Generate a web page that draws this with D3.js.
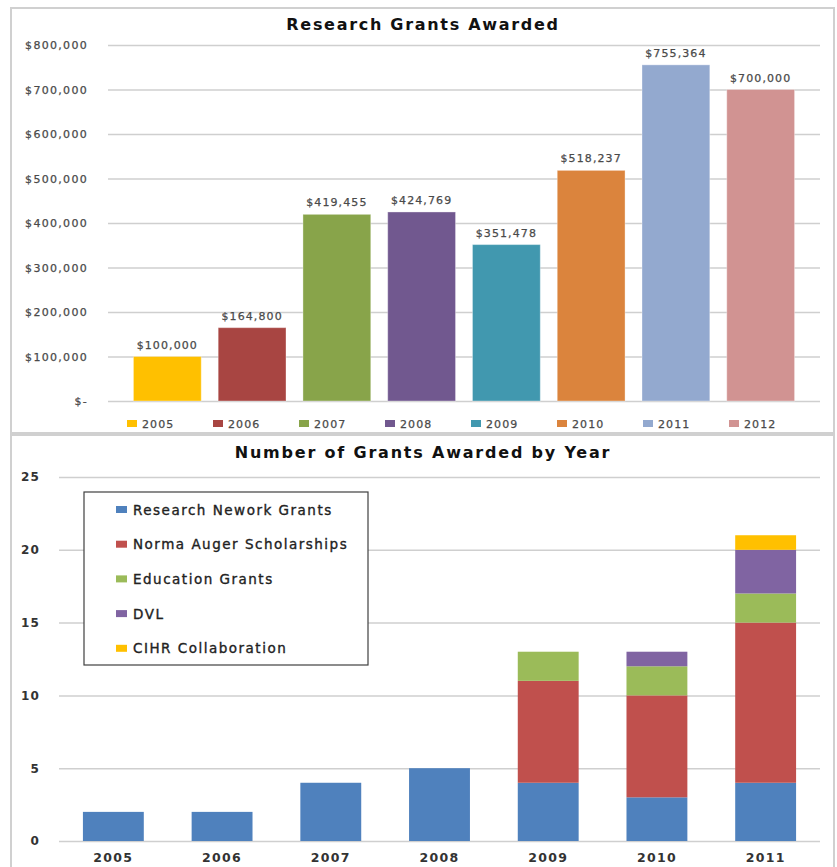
<!DOCTYPE html>
<html>
<head>
<meta charset="utf-8">
<script src="https://cdn.jsdelivr.net/npm/d3@7"></script>
<style>
	body { margin: 0; background: #fff; }
	text { font-family: "DejaVu Sans", Verdana, sans-serif; }
</style>
</head>
<body>
<div id="chart"></div>
<script>
// top chart
var years = ["2005", "2006", "2007", "2008", "2009", "2010", "2011", "2012"];
var amounts = [100000, 164800, 419455, 424769, 351478, 518237, 755364, 700000];
var amountTicks = [0, 100000, 200000, 300000, 400000, 500000, 600000, 700000, 800000];
var yearColors = ["#FFC000", "#A84542", "#88A44A", "#71588F", "#4198AF", "#DB843D", "#93A9CF", "#D19392"];

// bottom chart
var grantYears = ["2005", "2006", "2007", "2008", "2009", "2010", "2011"];
var seriesNames = ["Research Nework Grants", "Norma Auger Scholarships", "Education Grants", "DVL", "CIHR Collaboration"];
var networkGrants = [2, 2, 4, 5, 4, 3, 4];
var augerScholarships = [0, 0, 0, 0, 7, 7, 11];
var educationGrants = [0, 0, 0, 0, 2, 2, 2];
var dvl = [0, 0, 0, 0, 0, 1, 3];
var cihr = [0, 0, 0, 0, 0, 0, 1];
var countTicks = [0, 5, 10, 15, 20, 25];
var seriesColors = ["#4F81BD", "#C0504D", "#9BBB59", "#8064A2", "#FFC000"];

window.onload = function() {

	var svg = d3.select("#chart")
		.append("svg")
		.attr("width", 837)
		.attr("height", 867);

	// frames
	svg.append("rect")
		.attr("x", 11).attr("y", 8)
		.attr("width", 823).attr("height", 425)
		.attr("fill", "#fff")
		.attr("stroke", "#d0d0d0")
		.attr("stroke-width", 2);

	svg.append("rect")
		.attr("x", 11).attr("y", 435)
		.attr("width", 823).attr("height", 450)
		.attr("fill", "#fff")
		.attr("stroke", "#d0d0d0")
		.attr("stroke-width", 2);

	// ---------- Research Grants Awarded ----------
	var top = svg.append("g");

	var x1 = d3.scaleBand()
		.domain(years)
		.range([108, 820])
		.paddingInner(0.2)
		.paddingOuter(0.3);

	var y1 = d3.scaleLinear()
		.domain([0, 800000])
		.range([401, 45]);

	top.append("text")
		.attr("x", 423)
		.attr("y", 30)
		.attr("text-anchor", "middle")
		.attr("font-size", 16)
		.attr("font-weight", "bold")
		.attr("letter-spacing", 1.7)
		.attr("fill", "#111")
		.text("Research Grants Awarded");

	var yAxis1 = d3.axisLeft(y1)
		.tickValues(amountTicks)
		.tickSize(-(820 - 108))
		.tickPadding(20)
		.tickFormat(function(d) { return d === 0 ? "$-" : "$" + d3.format(",")(d); });

	top.append("g")
		.attr("transform", "translate(108,0)")
		.call(yAxis1)
		.call(function(g) {
			g.select(".domain").remove();
			g.selectAll(".tick line").attr("stroke", "#cfcfcf").attr("stroke-width", 1.5);
			g.selectAll(".tick text")
				.attr("font-size", 11)
				.attr("letter-spacing", 1.3)
				.attr("fill", "#4a4a4a")
				.attr("stroke", "#4a4a4a")
				.attr("stroke-width", 0.25)
				.attr("font-family", "DejaVu Sans, sans-serif");
		});

	top.selectAll(".bar")
		.data(amounts)
		.enter()
		.append("rect")
		.attr("class", "bar")
		.attr("x", function(d, i) { return x1(years[i]); })
		.attr("width", x1.bandwidth())
		.attr("y", function(d) { return y1(d); })
		.attr("height", function(d) { return y1(0) - y1(d); })
		.attr("fill", function(d, i) { return yearColors[i]; })
		.attr("stroke", "#fff")
		.attr("stroke-opacity", 0.35)
		.attr("stroke-width", 1);

	top.selectAll(".val")
		.data(amounts)
		.enter()
		.append("text")
		.attr("class", "val")
		.attr("x", function(d, i) { return x1(years[i]) + x1.bandwidth() / 2; })
		.attr("y", function(d) { return y1(d) - 8; })
		.attr("text-anchor", "middle")
		.attr("font-size", 11)
		.attr("letter-spacing", 1.1)
		.attr("fill", "#4a4a4a")
		.attr("stroke", "#4a4a4a")
		.attr("stroke-width", 0.25)
		.text(function(d) { return "$" + d3.format(",")(d); });

	var leg1 = top.selectAll(".leg1")
		.data(years)
		.enter()
		.append("g")
		.attr("class", "leg1")
		.attr("transform", function(d, i) { return "translate(" + (127 + i * 86) + ",420)"; });

	leg1.append("rect")
		.attr("width", 10)
		.attr("height", 7)
		.attr("fill", function(d, i) { return yearColors[i]; });

	leg1.append("text")
		.attr("x", 15)
		.attr("y", 7.5)
		.attr("font-size", 11)
		.attr("letter-spacing", 1.1)
		.attr("fill", "#4a4a4a")
		.attr("stroke", "#4a4a4a")
		.attr("stroke-width", 0.25)
		.text(function(d) { return d; });

	// ---------- Number of Grants Awarded by Year ----------
	var bottom = svg.append("g");

	var stackData = grantYears.map(function(yr, i) {
		return {
			year: yr,
			s0: networkGrants[i],
			s1: augerScholarships[i],
			s2: educationGrants[i],
			s3: dvl[i],
			s4: cihr[i]
		};
	});

	var keys = ["s0", "s1", "s2", "s3", "s4"];
	var series = d3.stack().keys(keys)(stackData);

	var x2 = d3.scaleBand()
		.domain(grantYears)
		.range([59, 820])
		.paddingInner(0.44)
		.paddingOuter(0.22);

	var y2 = d3.scaleLinear()
		.domain([0, 25])
		.range([841, 477]);

	bottom.append("text")
		.attr("x", 423)
		.attr("y", 458)
		.attr("text-anchor", "middle")
		.attr("font-size", 16)
		.attr("font-weight", "bold")
		.attr("letter-spacing", 1.8)
		.attr("fill", "#111")
		.text("Number of Grants Awarded by Year");

	var yAxis2 = d3.axisLeft(y2)
		.tickValues(countTicks)
		.tickSize(-(820 - 59))
		.tickPadding(19);

	bottom.append("g")
		.attr("transform", "translate(59,0)")
		.call(yAxis2)
		.call(function(g) {
			g.select(".domain").remove();
			g.selectAll(".tick line").attr("stroke", "#cfcfcf").attr("stroke-width", 1.5);
			g.selectAll(".tick text")
				.attr("font-size", 12)
				.attr("font-weight", "bold")
				.attr("letter-spacing", 1.2)
				.attr("fill", "#333")
				.attr("font-family", "DejaVu Sans, sans-serif");
		});

	bottom.selectAll(".layer")
		.data(series)
		.enter()
		.append("g")
		.attr("class", "layer")
		.attr("fill", function(d, i) { return seriesColors[i]; })
		.selectAll("rect")
		.data(function(d) { return d.filter(function(p) { return p[1] > p[0]; }); })
		.enter()
		.append("rect")
		.attr("x", function(p) { return x2(p.data.year); })
		.attr("width", x2.bandwidth())
		.attr("y", function(p) { return y2(p[1]); })
		.attr("height", function(p) { return y2(p[0]) - y2(p[1]); });

	var xAxis2 = d3.axisBottom(x2)
		.tickSize(0)
		.tickPadding(12);

	bottom.append("g")
		.attr("transform", "translate(0,841)")
		.call(xAxis2)
		.call(function(g) {
			g.select(".domain").remove();
			g.selectAll(".tick text")
				.attr("font-size", 12.5)
				.attr("font-weight", "bold")
				.attr("letter-spacing", 1.3)
				.attr("fill", "#333")
				.attr("font-family", "DejaVu Sans, sans-serif");
		});

	// legend box
	bottom.append("rect")
		.attr("x", 84)
		.attr("y", 492)
		.attr("width", 284)
		.attr("height", 173)
		.attr("fill", "#fff")
		.attr("stroke", "#404040")
		.attr("stroke-width", 1.2);

	var leg2 = bottom.selectAll(".leg2")
		.data(seriesNames)
		.enter()
		.append("g")
		.attr("class", "leg2")
		.attr("transform", function(d, i) { return "translate(116," + (506 + i * 34.7) + ")"; });

	leg2.append("rect")
		.attr("width", 11)
		.attr("height", 7)
		.attr("fill", function(d, i) { return seriesColors[i]; });

	leg2.append("text")
		.attr("x", 17)
		.attr("y", 8.5)
		.attr("font-size", 13.5)
		.attr("letter-spacing", 1.5)
		.attr("fill", "#222")
		.attr("stroke", "#222")
		.attr("stroke-width", 0.35)
		.text(function(d) { return d; });
}
</script>
</body>
</html>
